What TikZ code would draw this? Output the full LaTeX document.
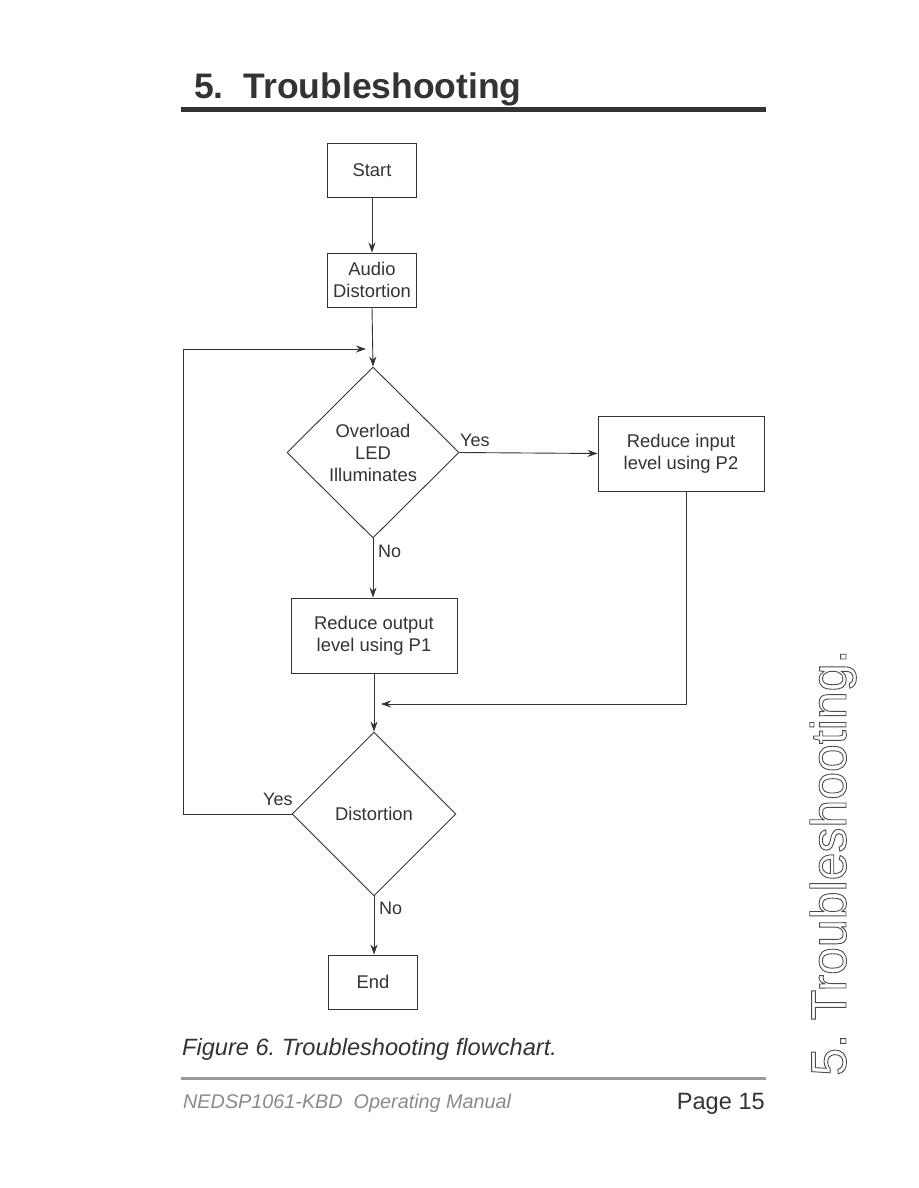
\documentclass[tikz,border=0pt]{standalone}
\usepackage{fontspec}
\setmainfont{Liberation Sans}
\usetikzlibrary{shapes.geometric,arrows.meta}
\definecolor{ink}{HTML}{333333}
\definecolor{footgray}{HTML}{8A8A8A}
\definecolor{rulegray}{HTML}{9A9A9A}
\frenchspacing
\begin{document}
\begin{tikzpicture}[x=1pt,y=-1pt,
  every node/.style={text=ink},
  box/.style={draw=ink,line width=0.9pt,minimum width=89pt,minimum height=54pt,inner sep=0pt,align=center,font=\fontsize{18.4}{22}\selectfont},
  wbox/.style={box,minimum width=166pt,minimum height=75pt},
  dia/.style={draw=ink,line width=0.9pt,diamond,inner sep=0pt,align=center,font=\fontsize{18.4}{22}\selectfont},
  conn/.style={draw=ink,line width=0.9pt},
  arr/.style={conn,-{Stealth[length=10pt,width=7pt]}},
  lbl/.style={font=\fontsize{18}{20}\selectfont,inner sep=0pt}]
\useasboundingbox (0,0) rectangle (918,1188);
% title
\node[anchor=base west,inner sep=0pt,font=\fontsize{35.5}{40}\selectfont\bfseries] (title) at (194,99) {5.\ \ Troubleshooting};
\fill[ink] (181,107) rectangle (766,112);
% flowchart
\node[box] (start) at (372,170) {Start};
\node[box] (audio) at (372,280) {Audio\\Distortion};
\node[dia,minimum width=172pt,minimum height=171pt] (d1) at (373,452.5) {Overload\\LED\\Illuminates};
\node[wbox] (inp) at (681,453.5) {Reduce input\\level using P2};
\node[wbox] (outp) at (374,635.5) {Reduce output\\level using P1};
\node[dia,minimum width=164pt,minimum height=164pt] (d2) at (374,814) {Distortion};
\node[box] (end) at (373,982) {End};
\coordinate (lp) at (183,349);
\coordinate (lpend) at (366,349);
\coordinate (mj) at (381,704);
\draw[arr] (start) -- (audio);
\draw[arr] (audio.south) -- (d1.north);
\draw[arr] (d1.east) -- (inp.west);
\draw[arr] (d1.south) -- (d1.south |- outp.north);
\draw[arr] (outp.south) -- (d2.north);
\draw[arr] ([xshift=5pt]inp.south) |- (mj);
\draw[arr] (d2.west) -| (lp) -- (lpend);
\draw[arr] (d2.south) -- (d2.south |- end.north);
\node[lbl,anchor=base west] (y1) at (460,446) {Yes};
\node[lbl,anchor=base west] (n1) at (378,557) {No};
\node[lbl,anchor=base west] (y2) at (263,805) {Yes};
\node[lbl,anchor=base west] (n2) at (379,914) {No};
% caption and footer
\node[anchor=base west,inner sep=0pt,font=\fontsize{23.6}{26}\selectfont\itshape] (cap) at (182,1055) {Figure 6. Troubleshooting flowchart.};
\fill[rulegray] (181,1076.5) rectangle (766,1079.5);
\node[anchor=base west,inner sep=0pt,text=footgray,font=\fontsize{19.8}{22}\selectfont\itshape] (foot) at (183,1108) {NEDSP1061-KBD\ \ Operating Manual};
\node[anchor=base east,inner sep=0pt,font=\fontsize{23.6}{26}\selectfont] (page) at (765,1109) {Page 15};
% side tab
\node[anchor=base west,rotate=90,inner sep=0pt,font=\fontsize{50}{52}\selectfont] (side) at (846,1076) {\special{pdf:code q 1 Tr 0.9 w 0.3 0.3 0.3 RG}5.\ Troubleshooting.\special{pdf:code Q}};
\end{tikzpicture}
\end{document}
